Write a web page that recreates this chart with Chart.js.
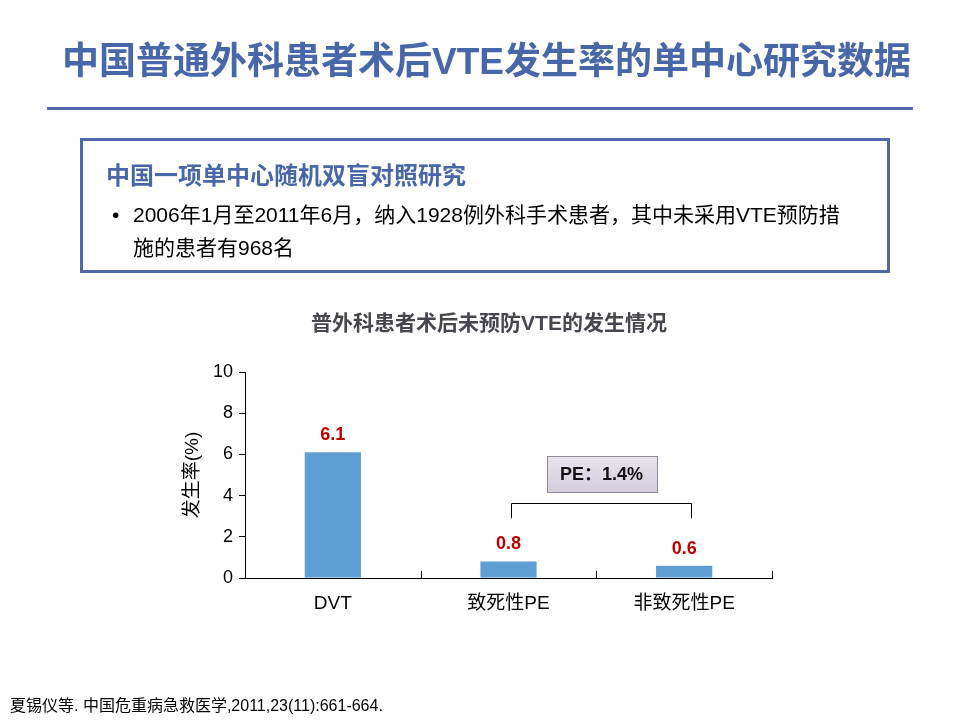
<!DOCTYPE html>
<html>
<head>
<meta charset="utf-8">
<title>普外科患者术后未预防VTE的发生情况</title>
<script src="https://cdn.jsdelivr.net/npm/chart.js@4/dist/chart.umd.min.js"></script>
<style>
  body { margin: 0; background: #fff; }
  #page { position: relative; width: 960px; height: 720px; overflow: hidden;
          font-family: "Liberation Sans", "Noto Sans CJK SC", sans-serif; }
  #myChart { position: absolute; left: 0; top: 0; }
  .abs { position: absolute; white-space: nowrap; }
  #title { left: 62px; top: 40px; font-size: 37px; font-weight: bold; color: #4767a9; line-height: 44px; }
  #rule { left: 47px; top: 107px; width: 866px; height: 3px; background: #4d69a8; }
  #box { left: 80px; top: 138px; width: 810px; height: 135px; border: 3px solid #4d69a8; box-sizing: border-box; }
  #boxHead { left: 106px; top: 160px; font-size: 24px; font-weight: bold; color: #4767a9; line-height: 32px; }
  #bullet { left: 112px; top: 199px; font-size: 21px; line-height: 32px; }
  .line { left: 133px; font-size: 21px; color: #000; line-height: 32px; }
  #chartTitle { left: 489px; top: 309px; transform: translateX(-50%); font-size: 21px; font-weight: bold; color: #47464f; line-height: 28px; }
  #footer { left: 10px; top: 696px; font-size: 16px; color: #000; line-height: 20px; }
</style>
</head>
<body>
<div id="page">
  <canvas id="myChart" width="960" height="720"></canvas>
  <div class="abs" id="title">中国普通外科患者术后VTE发生率的单中心研究数据</div>
  <div class="abs" id="rule"></div>
  <div class="abs" id="box"></div>
  <div class="abs" id="boxHead">中国一项单中心随机双盲对照研究</div>
  <div class="abs" id="bullet">•</div>
  <div class="abs line" style="top:199px">2006年1月至2011年6月，纳入1928例外科手术患者，其中未采用VTE预防措</div>
  <div class="abs line" style="top:232px">施的患者有968名</div>
  <div class="abs" id="chartTitle">普外科患者术后未预防VTE的发生情况</div>
  <div class="abs" id="footer">夏锡仪等. 中国危重病急救医学,2011,23(11):661-664.</div>
</div>

<script>
    // data
    var categories = ["DVT", "致死性PE", "非致死性PE"];
    var rates = [6.1, 0.8, 0.6];
    var valueLabels = ["6.1", "0.8", "0.6"];
    var yTicks = [0, 2, 4, 6, 8, 10];
    var peLabel = "PE：1.4%";
    var peGroup = [1, 2];           // categories joined by the bracket
    var bracketTop = 3.65;          // bracket levels in % units
    var bracketFoot = 2.9;
    var peBoxCenter = 5.05;

    var FONT = '"Liberation Sans", "Noto Sans CJK SC", sans-serif';

    // value labels above the bars
    var barLabels = {
        id: 'barLabels',
        afterDatasetsDraw: function(chart) {
            var ctx = chart.ctx;
            var meta = chart.getDatasetMeta(0);
            ctx.save();
            ctx.fillStyle = '#c00000';
            ctx.font = 'bold 18px ' + FONT;
            ctx.textAlign = 'center';
            ctx.textBaseline = 'bottom';
            meta.data.forEach(function(bar, i) {
                ctx.fillText(valueLabels[i], bar.x, bar.y - 8);
            });
            ctx.restore();
        }
    };

    // inward ticks on the x axis at category boundaries
    var xInnerTicks = {
        id: 'xInnerTicks',
        afterDraw: function(chart) {
            var ctx = chart.ctx;
            var xs = chart.scales.x;
            var ys = chart.scales.y;
            var half = (xs.getPixelForValue(1) - xs.getPixelForValue(0)) / 2;
            ctx.save();
            ctx.strokeStyle = '#000';
            ctx.lineWidth = 1;
            ctx.beginPath();
            for (var i = 0; i < categories.length; i++) {
                var px = Math.round(xs.getPixelForValue(i) + half) + 0.5;
                ctx.moveTo(px, ys.bottom);
                ctx.lineTo(px, ys.bottom - 7);
            }
            ctx.stroke();
            ctx.restore();
        }
    };

    // bracket over the two PE bars and the summary box
    var peBracket = {
        id: 'peBracket',
        afterDraw: function(chart) {
            var ctx = chart.ctx;
            var xs = chart.scales.x;
            var ys = chart.scales.y;
            var x1 = Math.round(xs.getPixelForValue(peGroup[0])) + 2.5;
            var x2 = Math.round(xs.getPixelForValue(peGroup[1])) + 7.5;
            var yt = Math.round(ys.getPixelForValue(bracketTop)) + 0.5;
            var yf = ys.getPixelForValue(bracketFoot);
            ctx.save();
            ctx.strokeStyle = '#000';
            ctx.lineWidth = 1;
            ctx.beginPath();
            ctx.moveTo(x1, yf);
            ctx.lineTo(x1, yt);
            ctx.lineTo(x2, yt);
            ctx.lineTo(x2, yf);
            ctx.stroke();

            var cx = (x1 + x2) / 2;
            var cy = ys.getPixelForValue(peBoxCenter);
            var w = 110, h = 36;
            var bx = Math.round(cx - w / 2) + 0.5, by = Math.round(cy - h / 2) + 0.5;
            var grad = ctx.createLinearGradient(0, by, 0, by + h);
            grad.addColorStop(0, '#e8e4ec');
            grad.addColorStop(1, '#d3cddc');
            ctx.fillStyle = grad;
            ctx.fillRect(bx, by, w, h);
            ctx.strokeStyle = '#8f8a99';
            ctx.strokeRect(bx, by, w, h);

            ctx.fillStyle = '#111';
            ctx.font = 'bold 18px ' + FONT;
            ctx.textAlign = 'center';
            ctx.textBaseline = 'middle';
            ctx.fillText(peLabel, cx, cy + 1);
            ctx.restore();
        }
    };

    var ctx = document.getElementById('myChart').getContext('2d');
    var chart = new Chart(ctx, {
        type: 'bar',
        data: {
            labels: categories,
            datasets: [{
                data: rates,
                backgroundColor: '#5f9ed3',
                borderWidth: 0,
                barPercentage: 0.32,
                categoryPercentage: 1.0
            }]
        },
        options: {
            responsive: false,
            animation: false,
            layout: { padding: { left: 175, right: 188, top: 372, bottom: 0 } },
            plugins: {
                legend: { display: false },
                tooltip: { enabled: false },
                title: { display: false }
            },
            scales: {
                x: {
                    grid: { display: false, drawTicks: false },
                    border: { display: true, color: '#000', width: 1 },
                    ticks: { color: '#000', font: { family: FONT, size: 19 }, padding: 14, maxRotation: 0 },
                    afterFit: function(scale) { scale.height = 142; }
                },
                y: {
                    min: 0,
                    max: 10,
                    afterBuildTicks: function(scale) {
                        scale.ticks = yTicks.map(function(v) { return { value: v }; });
                    },
                    grid: { drawOnChartArea: false, drawTicks: true, tickLength: 6, color: '#000' },
                    border: { display: true, color: '#000', width: 1 },
                    ticks: { color: '#000', font: { family: FONT, size: 18 }, padding: 6 },
                    title: {
                        display: true,
                        text: '发生率(%)',
                        color: '#000',
                        font: { family: FONT, size: 19 },
                        padding: { top: 6, bottom: 0 }
                    },
                    afterFit: function(scale) { scale.width = 70; }
                }
            }
        },
        plugins: [barLabels, xInnerTicks, peBracket]
    });
</script>
</body>
</html>
